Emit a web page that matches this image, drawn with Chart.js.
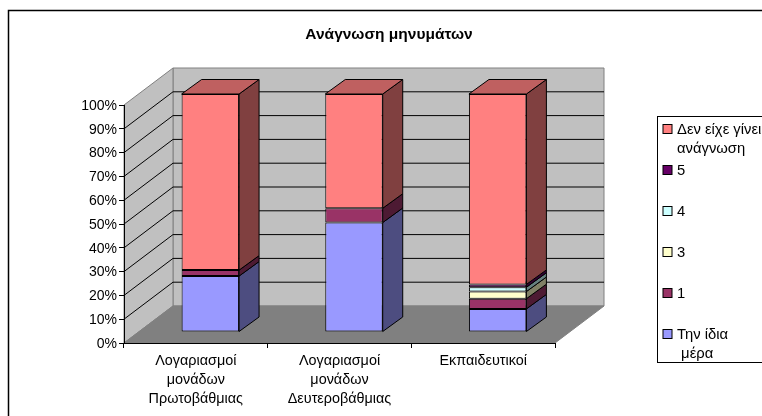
<!DOCTYPE html>
<html><head><meta charset="utf-8">
<style>html,body{margin:0;padding:0;background:#fff;overflow:hidden;width:762px;height:416px}
#wrap{position:absolute;left:0;top:0;width:778px;height:416px}</style>
<script src="https://cdn.jsdelivr.net/npm/chart.js@4"></script>
</head><body><div id="wrap"><canvas id="c" width="778" height="416"></canvas></div>
<script>
const title = "Ανάγνωση μηνυμάτων";
const categories = [["Λογαριασμοί","μονάδων","Πρωτοβάθμιας"],["Λογαριασμοί","μονάδων","Δευτεροβάθμιας"],"Εκπαιδευτικοί"];
const seriesNames = ["Την ίδια μέρα","1","3","4","5","Δεν είχε γίνει ανάγνωση"];
const sameDay = [23.5,46,9.7];
const one = [2.5,6,4.3];
const three = [null,null,3];
const four = [null,null,1.8];
const five = [null,null,1.2];
const notRead = [74,48,80];
const faceColors = ["#9999FF","#993366","#FFFFCC","#CCFFFF","#660066","#FF8080"];
const sideColors = ["#4D4D80","#4D1A33","#808066","#668080","#330033","#804040"];
const legendLines = [["Δεν είχε γίνει","ανάγνωση"],["5"],["4"],["3"],["1"],["Την ίδια"," μέρα"]];
const legendOrder = [5,4,3,2,1,0];
const FONT = '"Liberation Sans", Arial, sans-serif';
const wall = {dx:49, dy:37};       // perspective depth of the plot box
const barShift = {dx:14.5, dy:11}; // bars stand inside the floor
const barDepth = {dx:20, dy:14.5};

const box3d = {
  id:'box3d',
  afterLayout(chart){ chart.titleBlock.left=0; chart.titleBlock.right=chart.width; },
  beforeDraw(chart){
    const {ctx,chartArea:a,scales:{y}} = chart;
    ctx.save();
    ctx.fillStyle='#fff';ctx.fillRect(0,0,chart.width,chart.height);
    ctx.strokeStyle='#000';ctx.lineWidth=1.5;ctx.strokeRect(8.5,10.5,762,420);
    const poly=(pts,fill,stroke)=>{ctx.beginPath();pts.forEach((p,i)=>i?ctx.lineTo(p[0],p[1]):ctx.moveTo(p[0],p[1]));ctx.closePath();
      ctx.fillStyle=fill;ctx.fill();if(stroke){ctx.strokeStyle=stroke;ctx.lineWidth=1;ctx.stroke();}};
    const L=a.left,R=a.right,T=a.top,B=a.bottom,dx=wall.dx,dy=wall.dy;
    poly([[L+dx,T-dy],[R+dx,T-dy],[R+dx,B-dy],[L+dx,B-dy]],'#C0C0C0','#808080');
    poly([[L,T],[L+dx,T-dy],[L+dx,B-dy],[L,B]],'#C0C0C0','#808080');
    poly([[L,B],[L+dx,B-dy],[R+dx,B-dy],[R,B]],'#808080','#808080');
    ctx.strokeStyle='#000';ctx.lineWidth=1;
    y.ticks.forEach(t=>{
      if(t.value===0||t.value===100) return;
      const py=y.getPixelForValue(t.value);
      ctx.beginPath();ctx.moveTo(L,py);ctx.lineTo(L+dx,py-dy);ctx.lineTo(R+dx,py-dy);ctx.stroke();
    });
    ctx.restore();
  },
  beforeDatasetsDraw(chart){
    const ctx=chart.ctx;ctx.save();ctx.translate(barShift.dx,-barShift.dy);
    ctx.strokeStyle='#000';ctx.lineWidth=1;
    const n=chart.data.datasets.length;
    chart.data.labels.forEach((_,j)=>{
      let topEl=null;
      for(let i=0;i<n;i++){
        if(chart.data.datasets[i].data[j]==null) continue;
        const el=chart.getDatasetMeta(i).data[j];
        const xr=el.x+el.width/2,d=barDepth;
        ctx.beginPath();ctx.moveTo(xr,el.y);ctx.lineTo(xr+d.dx,el.y-d.dy);ctx.lineTo(xr+d.dx,el.base-d.dy);ctx.lineTo(xr,el.base);ctx.closePath();
        ctx.fillStyle=sideColors[i];ctx.fill();ctx.stroke();
        topEl=el;
      }
      if(topEl){
        const l=topEl.x-topEl.width/2,r=topEl.x+topEl.width/2,y=topEl.y,d=barDepth;
        ctx.beginPath();ctx.moveTo(l,y);ctx.lineTo(l+d.dx,y-d.dy);ctx.lineTo(r+d.dx,y-d.dy);ctx.lineTo(r,y);ctx.closePath();
        ctx.fillStyle='#BF6060';ctx.fill();ctx.stroke();
      }
    });
    ctx.restore();
  },
  beforeDatasetDraw(chart){chart.ctx.save();chart.ctx.translate(barShift.dx,-barShift.dy);},
  afterDatasetDraw(chart){chart.ctx.restore();},
  afterDraw(chart){
    const ctx=chart.ctx;ctx.save();
    ctx.fillStyle='#fff';ctx.fillRect(657.5,116.5,112,246);
    ctx.strokeStyle='#000';ctx.lineWidth=1;ctx.strokeRect(657.5,116.5,112,246);
    ctx.font='14.8px '+FONT;ctx.textBaseline='middle';ctx.textAlign='left';
    legendOrder.forEach((s,k)=>{
      const cy=129+41*k;
      ctx.fillStyle=faceColors[s];ctx.fillRect(663,cy-4.5,9,9);
      ctx.strokeStyle='#000';ctx.strokeRect(663,cy-4.5,9,9);
      ctx.fillStyle='#000';
      legendLines[k].forEach((t,m)=>ctx.fillText(t,677,cy+0.5+m*19));
    });
    ctx.restore();
  }
};

new Chart(document.getElementById('c'),{
  type:'bar',
  data:{labels:categories,datasets:[sameDay,one,three,four,five,notRead].map((d,i)=>({
    label:seriesNames[i],data:d,backgroundColor:faceColors[i],borderColor:'#000',borderWidth:1,borderSkipped:false,clip:false,
    categoryPercentage:1,barPercentage:0.4}))},
  options:{
    responsive:false,animation:false,
    layout:{padding:{left:0,right:223,top:0,bottom:0}},
    plugins:{
      legend:{display:false},tooltip:{enabled:false},
      title:{display:true,text:title,color:'#000',font:{family:FONT,size:15.5,weight:'bold',lineHeight:1.2},padding:{top:25,bottom:61.4}}
    },
    scales:{
      x:{stacked:true,afterFit(s){s.height=73;},
        grid:{display:true,drawOnChartArea:false,drawTicks:true,tickLength:5,color:'#000'},
        border:{display:true,color:'#000'},
        ticks:{color:'#000',maxRotation:0,autoSkip:false,padding:3,font:{family:FONT,size:14.4,lineHeight:1.34}}},
      y:{stacked:true,min:0,max:100,afterFit(s){s.width=124;},
        grid:{display:true,drawOnChartArea:false,drawTicks:true,tickLength:5,color:'#000'},
        border:{display:true,color:'#000'},
        ticks:{stepSize:10,color:'#000',padding:2,labelOffset:1,font:{family:FONT,size:14},callback:v=>v+'%'}}
    }
  },
  plugins:[box3d]
});
</script></body></html>
